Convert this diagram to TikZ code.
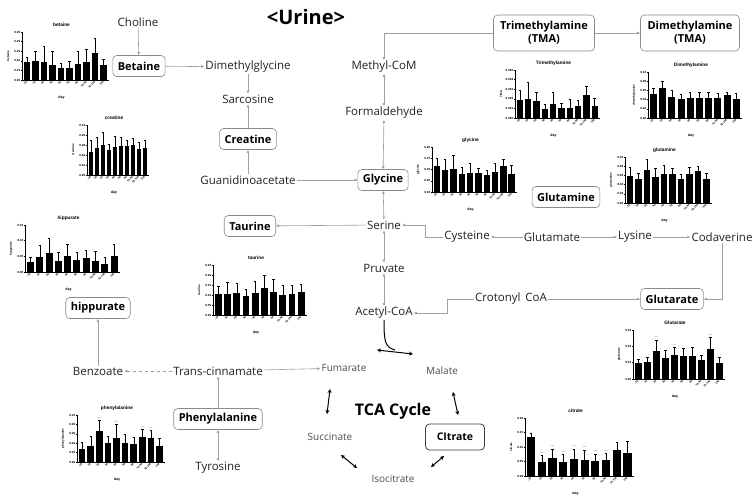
\documentclass[tikz,border=0pt]{standalone}
\usepackage{fontspec}
\setmainfont{Open Sans}
\newfontfamily\chartfont{Liberation Sans}
\usetikzlibrary{arrows.meta}
\definecolor{linegray}{HTML}{A0A0A0}
\definecolor{boxgray}{HTML}{8A8A8A}
\definecolor{metgray}{HTML}{222222}
\definecolor{tcagray}{HTML}{505050}

% #1,#2 axis origin, #3 width, #4 height, #5 title, #6 y label, #7 bars h/e/star, #8 tick step, #9 tick labels
\newcommand{\minichart}[9]{%
\begin{scope}[shift={(#1,#2)}]
\foreach \h/\e/\s [count=\i] in {#7}{
  \pgfmathsetmacro\bx{(\i-0.5)*#3/10+0.8}
  \pgfmathsetmacro\bw{0.38*#3/10}
  \fill (\bx-\bw,0) rectangle (\bx+\bw,-\h*#4);
  \draw[errbar] (\bx,-\h*#4) -- (\bx,-\e*#4) (\bx-1.2,-\e*#4) -- (\bx+1.2,-\e*#4);
  \ifnum\s>0 \node[cstar] at (\bx,-\e*#4-2) {***};\fi
}
\draw[chartaxis] (0,-#4) -- (0,0) -- (#3+1.5,0);
\foreach \l [count=\k from 0] in {#9}{
  \draw[chartaxis] (0,-\k*#8*#4) -- (-1.2,-\k*#8*#4);
  \node[ctick,anchor=east] at (-1.2,-\k*#8*#4) {\l};
}
\foreach \d [count=\i] in {-10,10,20,30,40,50,60,70-90,70-130,130}{
  \pgfmathsetmacro\bx{(\i-0.5)*#3/10+0.8}
  \draw[chartaxis] (\bx,0) -- (\bx,1.2);
  \node[xtick,rotate=45,anchor=east] at (\bx,1.6) {\d};
}
\node[ctitle] at (#3/2-3,-#4-7) {#5};
\node[ctick,rotate=90] at (-14,-#4/2) {#6};
\node[cday] at (#3/2-3,18) {day};
\end{scope}}

\begin{document}
\begin{tikzpicture}[x=1pt,y=-1pt,
  met/.style={font=\fontsize{11.5}{13}\selectfont,text=metgray,inner sep=1pt},
  key/.style={draw=boxgray,rounded corners=4pt,line width=0.6pt,font=\fontsize{11}{13}\selectfont\bfseries,inner xsep=5pt,minimum height=21pt},
  tcamet/.style={font=\fontsize{10}{12}\selectfont,text=tcagray,inner sep=1pt},
  conn/.style={draw=linegray,line width=0.6pt,-{Latex[length=3pt,width=3pt]}},
  both/.style={conn,{Latex[length=3pt,width=3pt]}-{Latex[length=3pt,width=3pt]}},
  cyc/.style={line width=1pt,{Stealth[length=4pt,width=4pt]}-{Stealth[length=4pt,width=4pt]}},
  errbar/.style={line width=0.35pt},
  chartaxis/.style={line width=0.5pt},
  ctitle/.style={font=\chartfont\bfseries\fontsize{4.8}{5}\selectfont,inner sep=0pt},
  ctick/.style={font=\chartfont\bfseries\fontsize{3}{3.5}\selectfont,inner sep=0.4pt},
  xtick/.style={font=\chartfont\bfseries\fontsize{2.7}{3}\selectfont,inner sep=0.3pt},
  cday/.style={font=\chartfont\bfseries\fontsize{3.6}{4}\selectfont,inner sep=0pt},
  cstar/.style={font=\chartfont\fontsize{3}{3}\selectfont,text=gray,inner sep=0pt}]
\fill[white] (0,0) rectangle (756,504);
\useasboundingbox (0,0) rectangle (756,504);

\node[font=\fontsize{20}{22}\selectfont\bfseries] (title) at (306,17) {<Urine>};

\node[met] (choline) at (138,22) {Choline};
\node[key] (betaine) at (139,66) {Betaine};
\node[met] (dmg) at (248,67) {Dimethylglycine};
\node[met] (sarcosine) at (248,99) {Sarcosine};
\node[key] (creatine) at (248,139) {Creatine};
\node[met] (guan) at (248,180) {Guanidinoacetate};
\node[key] (glycine) at (383,180) {Glycine};
\node[met] (methylcom) at (384,67) {Methyl-CoM};
\node[met] (formald) at (384,113) {Formaldehyde};
\node[key,align=center,minimum width=101pt,minimum height=36pt] (tma) at (544,33) {Trimethylamine\\(TMA)};
\node[key,align=center,minimum width=99pt,minimum height=36pt] (dma) at (690,33) {Dimethylamine\\(TMA)};
\node[met] (serine) at (384,225) {Serine};
\node[key] (taurine) at (250,226) {Taurine};
\node[met] (cysteine) at (467,237) {Cysteine};
\node[met] (glutamate) at (552,237) {Glutamate};
\node[met] (lysine) at (635,237) {Lysine};
\node[met] (codaverine) at (722,237) {Codaverine};
\node[key] (glutamine) at (566,197) {Glutamine};
\node[met] (pruvate) at (384,268) {Pruvate};
\node[met] (acetyl) at (384,313) {Acetyl-CoA};
\node[met] (crotonyl) at (511,299) {Crotonyl\, CoA};
\node[key] (glutarate) at (672,299) {Glutarate};
\node[key] (hippurate) at (98,308) {hippurate};
\node[met] (benzoate) at (98,371) {Benzoate};
\node[met] (transc) at (218,371) {Trans-cinnamate};
\node[key] (phe) at (218,419) {Phenylalanine};
\node[met] (tyrosine) at (218,468) {Tyrosine};
\node[tcamet] (fumarate) at (344,368) {Fumarate};
\node[tcamet] (malate) at (442,371) {Malate};
\node[tcamet] (succinate) at (330,437) {Succinate};
\node[tcamet] (isocitrate) at (393,479) {Isocitrate};
\node[draw=black!75,rounded corners=4pt,line width=0.8pt,minimum width=59pt,minimum height=26pt,font=\fontsize{10.5}{12}\selectfont\bfseries] (citrate) at (455,437) {CItrate};
\node[font=\fontsize{16}{18}\selectfont\bfseries] (tca) at (393,411) {TCA Cycle};

\draw[conn] (choline) -- (betaine);
\draw[conn] (betaine) -- (dmg);
\draw[conn] (dmg) -- (sarcosine);
\draw[conn] (creatine) -- (sarcosine);
\draw[conn] (guan) -- (creatine);
\draw[conn] (guan) -- (glycine);
\draw[conn] (tma.west) -| (methylcom.north);
\draw[conn] (tma) -- (dma);
\draw[both] (methylcom) -- (formald);
\draw[both] (formald) -- (glycine);
\draw[both] (glycine) -- (serine);
\draw[both] (serine) -- (pruvate);
\draw[both] (pruvate) -- (acetyl);
\draw[conn] (serine) -- (taurine);
\draw[conn] (cysteine.west) -- ++(-18,0) |- (serine.east);
\draw[conn] (glutamate) -- (cysteine);
\draw[conn] (glutamate) -- (lysine);
\draw[conn] (lysine) -- (codaverine);
\draw[conn] (codaverine.south) |- (glutarate.east);
\draw[conn] (crotonyl) -- (glutarate);
\draw[conn] (crotonyl.west) -- ++(-27,0) |- (acetyl.east);
\draw[conn] (transc) -- (fumarate);
\draw[conn,dashed] (transc) -- (benzoate);
\draw[conn] (benzoate) -- (hippurate);
\draw[conn] (phe) -- (transc);
\draw[both] (phe) -- (tyrosine);

% into the cycle
\coordinate (hub) at (395,350);
\coordinate (hubl) at (377,350);
\coordinate (hubr) at (413,354);
\draw[line width=1pt] (acetyl.south) .. controls +(0,22) and +(-10,-3) .. (hub);
\draw[cyc] (hubl) -- (hubr);
\coordinate (fum-s) at (330,389); \coordinate (suc-n) at (327,414);
\coordinate (mal-s) at (453,392); \coordinate (cit-n) at (458,415);
\coordinate (cit-s) at (444,456); \coordinate (iso-e) at (431,467);
\coordinate (suc-s) at (341,455); \coordinate (iso-w) at (357,468);
\draw[cyc] (fum-s) -- (suc-n);
\draw[cyc] (mal-s) -- (cit-n);
\draw[cyc] (cit-s) -- (iso-e);
\draw[cyc] (suc-s) -- (iso-w);

\minichart{22}{80}{85}{48}{betaine}{betaine}
  {.38/.48/0,.40/.60/0,.38/.70/0,.32/.60/0,.24/.36/0,.24/.40/0,.34/.60/0,.38/.64/0,.57/.88/0,.32/.44/0}
  {.2}{0.00,0.01,0.02,0.03,0.04,0.05}
\minichart{87}{175}{60}{50}{creatine}{creatine}
  {.47/.69/0,.55/.75/0,.61/.85/0,.50/.61/0,.57/.77/0,.59/.75/0,.58/.70/0,.60/.73/0,.53/.65/0,.55/.70/0}
  {.2}{0.00,0.02,0.04,0.06,0.08,0.10}
\minichart{25}{272}{93}{47}{hippurate}{hippurate}
  {.21/.31/0,.32/.57/0,.41/.73/0,.24/.43/0,.34/.59/0,.25/.43/0,.29/.46/0,.24/.45/0,.18/.32/0,.34/.59/0}
  {.3333}{0.00,0.05,0.10,0.15}
\minichart{213}{315}{92}{50}{taurine}{taurine}
  {.42/.57/0,.43/.65/0,.44/.64/0,.39/.52/0,.45/.68/0,.55/.79/0,.47/.71/0,.40/.60/0,.43/.60/0,.46/.62/0}
  {.2}{0.00,0.05,0.10,0.15,0.20,0.25}
\minichart{432}{192}{83}{45}{glycine}{glycine}
  {.58/.76/0,.48/.74/0,.52/.81/0,.39/.56/0,.43/.64/0,.42/.52/0,.37/.48/0,.44/.65/0,.57/.74/0,.39/.59/0}
  {.25}{0.00,0.05,0.10,0.15,0.20}
\minichart{625}{203}{85}{46}{glutamine}{glutamine}
  {.59/.78/0,.53/.65/0,.71/.96/0,.57/.76/0,.62/.83/0,.62/.76/0,.52/.62/0,.62/.78/0,.69/.81/0,.52/.65/0}
  {.2}{0.00,0.02,0.04,0.06,0.08,0.10}
\minichart{515}{118}{83}{48}{Trimethylamine}{TMA}
  {.37/.57/0,.40/.74/0,.36/.53/0,.19/.29/0,.30/.54/0,.21/.31/0,.21/.40/0,.24/.38/0,.47/.67/0,.26/.41/0}
  {.2}{0.000,0.001,0.002,0.003,0.004,0.005}
\minichart{648}{118}{92}{46}{Dimethylamine}{dimethylamine}
  {.52/.64/0,.66/.80/0,.45/.61/0,.42/.51/0,.44/.56/0,.44/.56/0,.44/.56/0,.44/.54/0,.49/.56/0,.42/.54/0}
  {.2}{0.00,0.02,0.04,0.06,0.08,0.10}
\minichart{633}{379}{90}{49}{Glutarate}{glutarate}
  {.32/.40/0,.35/.44/0,.57/.80/1,.43/.58/0,.49/.64/1,.47/.63/0,.46/.64/0,.39/.49/0,.62/.85/1,.33/.44/0}
  {.3333}{0.00,0.01,0.02,0.03}
\minichart{525}{476}{107}{58}{citrate}{citrate}
  {.68/.74/0,.24/.36/1,.31/.47/1,.24/.37/1,.30/.47/1,.28/.45/1,.26/.38/1,.28/.39/1,.45/.58/0,.39/.60/0}
  {.25}{0.00,0.05,0.10,0.15,0.20}
\minichart{77}{462}{86}{47}{phenylalanine}{phenylalanine}
  {.27/.42/0,.33/.54/0,.65/.88/1,.40/.54/0,.52/.80/1,.40/.59/0,.39/.53/0,.54/.70/1,.52/.68/1,.33/.51/0}
  {.2}{0.00,0.02,0.04,0.06,0.08,0.10}
\end{tikzpicture}
\end{document}
